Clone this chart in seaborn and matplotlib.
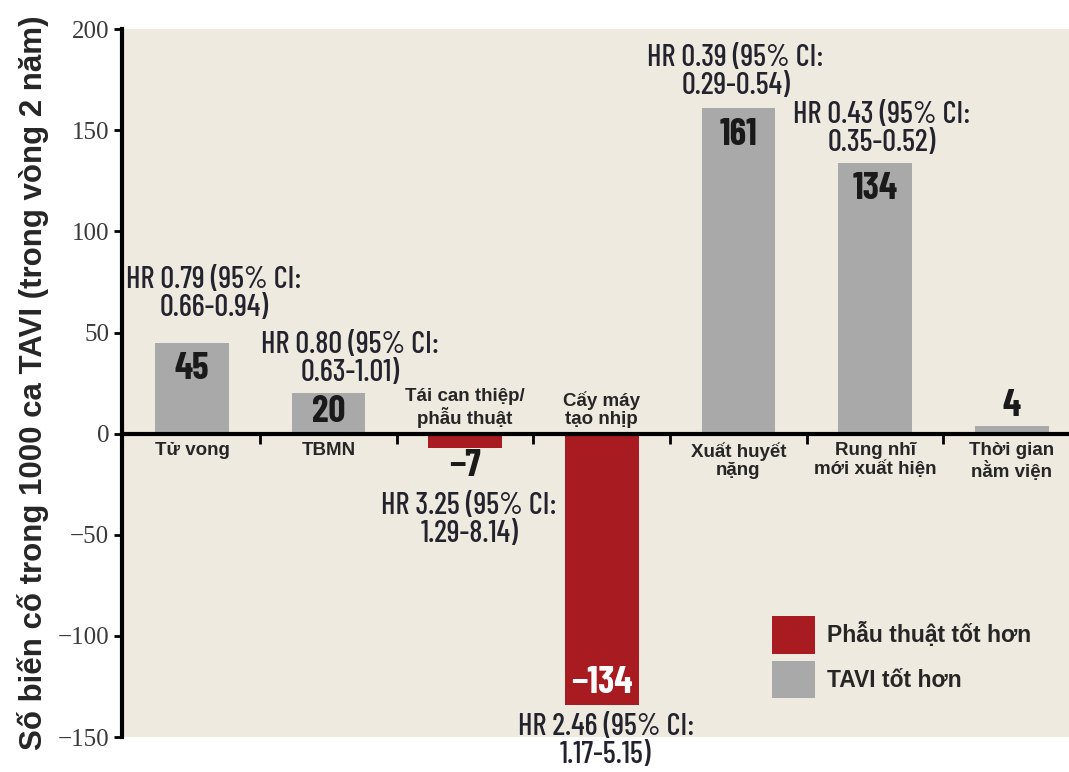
import matplotlib
matplotlib.use("Agg")
import matplotlib.pyplot as plt
from matplotlib.patches import Patch
import seaborn as sns
import pandas as pd

# Chart data
categories = ["Tử vong", "TBMN", "Tái can thiệp/\nphẫu thuật", "Cấy máy\ntạo nhịp",
              "Xuất huyết\nnặng", "Rung nhĩ\nmới xuất hiện", "Thời gian\nnằm viện"]
values = [45, 20, -7, -134, 161, 134, 4]
value_labels = ["45", "20", "−7", "−134", "161", "134", "4"]
groups = ["TAVI tốt hơn", "TAVI tốt hơn", "Phẫu thuật tốt hơn", "Phẫu thuật tốt hơn",
          "TAVI tốt hơn", "TAVI tốt hơn", "TAVI tốt hơn"]
hr_labels = ["HR 0.79 (95% CI:\n0.66-0.94)", "HR 0.80 (95% CI:\n0.63-1.01)",
             "HR 3.25 (95% CI:\n1.29-8.14)", "HR 2.46 (95% CI:\n1.17-5.15)",
             "HR 0.39 (95% CI:\n0.29-0.54)", "HR 0.43 (95% CI:\n0.35-0.52)", ""]
legend_order = ["Phẫu thuật tốt hơn", "TAVI tốt hơn"]
y_ticks = [-150, -100, -50, 0, 50, 100, 150, 200]
y_label = "Số biến cố trong 1000 ca TAVI (trong vòng 2 năm)"

colors = {"Phẫu thuật tốt hơn": "#a81b20", "TAVI tốt hơn": "#a9a9a9"}
bg = "#efeadf"
narrow = ["Barlow Condensed", "DejaVu Sans"]
sans = ["Liberation Sans", "DejaVu Sans"]

df = pd.DataFrame({"cat": categories, "val": values, "grp": groups})

sns.set_style("white")
plt.rcParams["font.family"] = sans

fig = plt.figure(figsize=(10.69, 7.72), dpi=100)
ax = fig.add_axes([0.114, 0.0453, 0.886, 0.917])
ax.set_facecolor(bg)

sns.barplot(data=df, x="cat", y="val", hue="grp", hue_order=legend_order,
            palette=colors, dodge=False, width=0.54, saturation=1,
            legend=False, linewidth=0, edgecolor="none", ax=ax)

ax.set_xlim(-0.513, 6.42)
ax.set_ylim(-150, 200)
ax.set_yticks(y_ticks)
ax.set_yticklabels([f"{t}".replace("-", "−") for t in y_ticks],
                   fontfamily=["Liberation Serif", "DejaVu Serif"], fontsize=18,
                   color="#3a3a3a")
ax.tick_params(axis="y", direction="out", length=6, width=2, color="black", pad=3, left=True)

# zero line doubles as the category axis, with separators between groups
for s in ["top", "right"]:
    ax.spines[s].set_visible(False)
ax.spines["bottom"].set_position(("data", 0))
ax.spines["bottom"].set_linewidth(3)
ax.spines["bottom"].set_color("black")
ax.spines["bottom"].set_zorder(5)
ax.spines["left"].set_linewidth(3)
ax.spines["left"].set_color("black")
ax.set_xticks([i + 0.5 for i in range(len(categories) - 1)])
ax.set_xticklabels([])
ax.tick_params(axis="x", direction="out", length=7, width=2, color="black", bottom=True)
ax.set_xlabel("")
ax.set_ylabel(y_label, fontsize=22.5, fontweight="bold", labelpad=6, family=sans)

# category names: above the line for negative bars, below for positive ones
for i, (cat, v) in enumerate(zip(categories, values)):
    if v < 0:
        ax.annotate(cat, (i, 0), xytext=(0, 4), textcoords="offset points",
                    ha="center", va="bottom", fontsize=13.5, fontweight="bold",
                    linespacing=1.1, family=sans, zorder=6)
    else:
        ax.annotate(cat, (i, 0), xytext=(0, -6), textcoords="offset points",
                    ha="center", va="top", fontsize=13.5, fontweight="bold",
                    linespacing=1.1, family=sans, zorder=6)

# values on the bars
num_kw = dict(ha="center", fontsize=27, fontweight="bold", family=narrow,
              textcoords="offset points")
for i, (lab, v) in enumerate(zip(value_labels, values)):
    if v >= 30:
        ax.annotate(lab, (i, v), xytext=(0, -7), va="top", color="#1a1a1a", **num_kw)
    elif v > 10:
        ax.annotate(lab, (i, v), xytext=(0, -1), va="top", color="#1a1a1a", **num_kw)
    elif v > 0:
        ax.annotate(lab, (i, v), xytext=(0, 2), va="bottom", color="#1a1a1a", **num_kw)
    elif v > -30:
        ax.annotate(lab, (i, v), xytext=(0, -1), va="top", color="#1a1a1a", **num_kw)
    else:
        ax.annotate(lab, (i, v), xytext=(0, 3), va="bottom", color="white", **num_kw)

# hazard ratio notes
hr_pos = [(0.16, 55, "bottom"), (1.16, 23, "bottom"), (2.03, -29, "top"),
          (3.03, -138, "top"), (3.98, 165, "bottom"), (5.05, 137, "bottom")]
for (x, y, va), txt in zip(hr_pos, hr_labels):
    ax.text(x, y, txt, ha="center", va=va, fontsize=22, family=narrow,
            fontweight="medium", color="#23232e", linespacing=1.0,
            clip_on=False, zorder=7)

handles = [Patch(facecolor=colors[g], edgecolor="none", label=g) for g in legend_order]
ax.legend(handles=handles, loc="upper left", bbox_to_anchor=(0.665, 0.2),
          frameon=False, handlelength=1.85, handleheight=2.15, handletextpad=0.55,
          labelspacing=0.3, prop={"family": sans, "weight": "bold", "size": 16.5})

fig.savefig("out.png", dpi=100, facecolor="white")
